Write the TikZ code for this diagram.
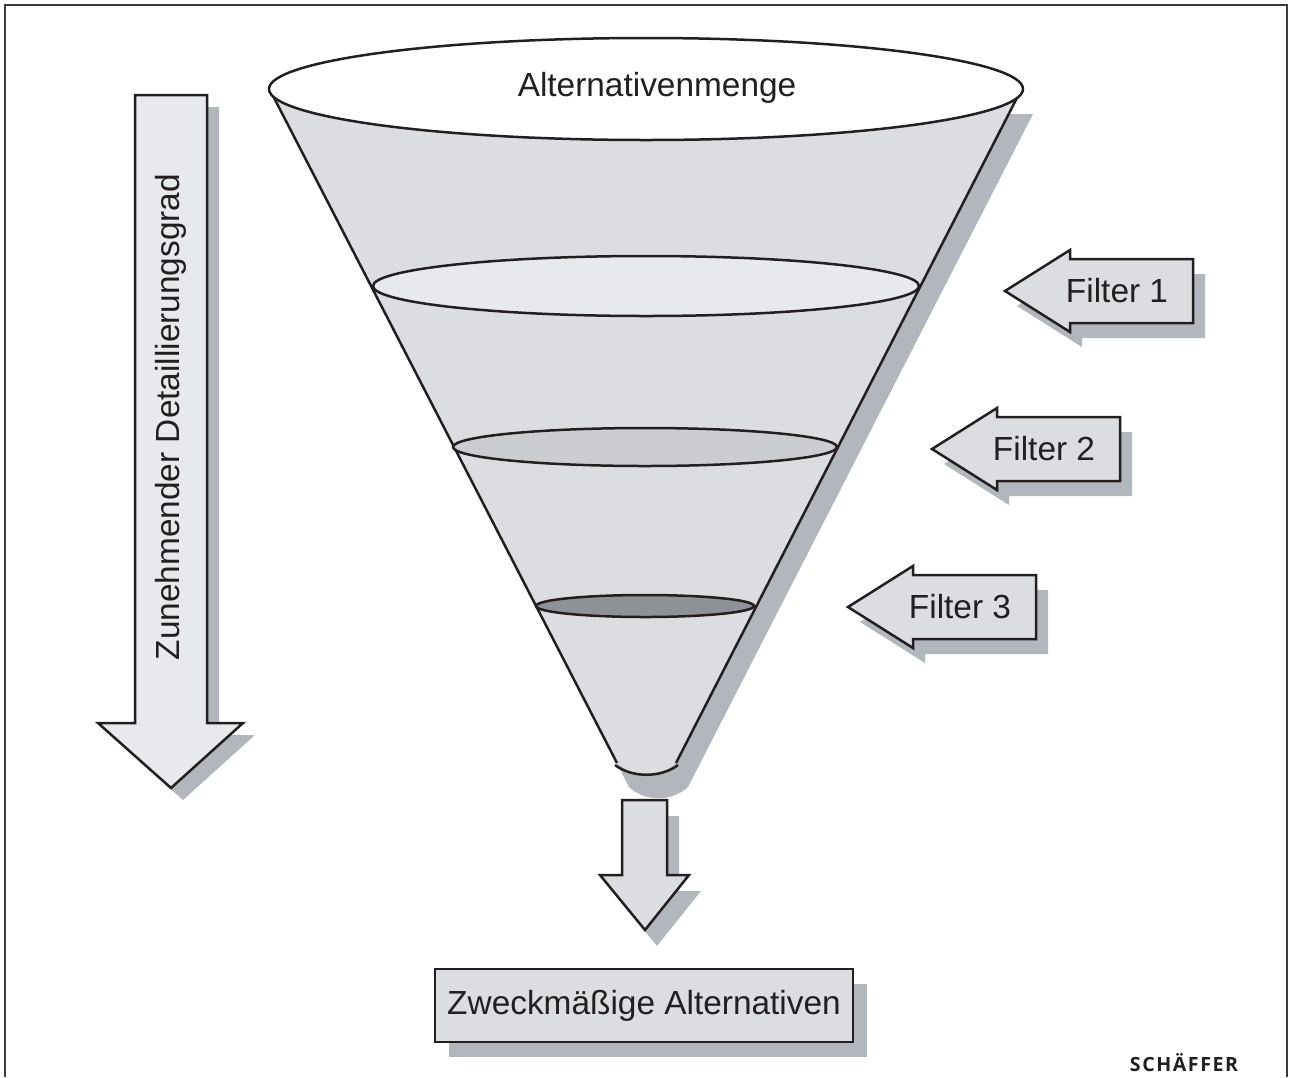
\documentclass[tikz,border=0pt]{standalone}
\usepackage{fontspec}
\setmainfont{Liberation Sans}
\newfontfamily\brandfont[LetterSpace=8]{Open Sans}
\usetikzlibrary{shapes.geometric}
\definecolor{ink}{HTML}{231F20}
\definecolor{framegray}{HTML}{3A3A3A}
\definecolor{cone}{HTML}{DBDDE1}
\definecolor{paper}{HTML}{E8E9EC}
\definecolor{midgray}{HTML}{CBCDD3}
\definecolor{darkgray}{HTML}{8E9197}
\definecolor{shadowgray}{HTML}{B2B6BD}
\tikzset{
  outline/.style={draw=ink,line width=1.25pt,line join=miter},
  castshadow/.style={fill=shadowgray,draw=none},
  lbl/.style={text=ink,inner sep=0pt,font=\fontsize{16.7}{20}\selectfont},
  level/.style={ellipse,outline,inner sep=0pt},
  % left-pointing filter arrow, origin at the tip
  pics/filterarrow/.style={code={
    \fill[castshadow,shift={(12,15)}] (0,0) -- (65,-41) -- (65,-32) -- (188,-32)
      -- (188,32) -- (65,32) -- (65,41) -- cycle;
    \draw[outline,fill=cone] (0,0) -- (65,-41) -- (65,-32) -- (188,-32)
      -- (188,32) -- (65,32) -- (65,41) -- cycle;
    \node[lbl] (-text) at (112,0) {#1};
  }}
}
\begin{document}
\begin{tikzpicture}[x=0.5pt,y=-0.5pt]
\useasboundingbox (0,0) rectangle (1289,1077);
% frame, open at the bottom
\draw[framegray,line width=1pt] (5,1077) -- (5,5) -- (1287,5) -- (1287,1077);

% funnel body
\fill[castshadow,shift={(12,24)}] (270,90) -- (1021,90) -- (676,763)
  .. controls (660,778) and (633,778) .. (617,763) -- cycle;
\fill[cone] (270,90) -- (1021,90) -- (676,763)
  .. controls (660,778) and (633,778) .. (617,763) -- cycle;
\draw[outline] (270,90) -- (617,763);
\draw[outline] (1021,90) -- (676,763);
\draw[outline] (615,765) .. controls (632,778) and (661,778) .. (678,765);

% openings
\node[level,fill=white,minimum width=377pt,minimum height=51pt] (rim) at (646,89) {};
\node[level,fill=paper,minimum width=273pt,minimum height=30pt] (level1) at (646,286) {};
\node[level,fill=midgray,minimum width=192pt,minimum height=19pt] (level2) at (645,447) {};
\node[level,fill=darkgray,minimum width=109pt,minimum height=11pt] (level3) at (645,606) {};
\node[lbl] (set) at (657,88) {Alternativenmenge};

% filters
\foreach \n/\x/\y in {1/1005/291,2/932/449,3/848/607}
  \pic (filter\n) at (\x,\y) {filterarrow={Filter \n}};

% detail arrow
\fill[castshadow,shift={(12,12)}] (135,95) -- (207,95) -- (207,723) -- (243,723)
  -- (171,788) -- (98,723) -- (135,723) -- cycle;
\draw[outline,fill=paper] (135,95) -- (207,95) -- (207,723) -- (243,723)
  -- (171,788) -- (98,723) -- (135,723) -- cycle;
\node[lbl,rotate=90] (detail) at (171,417) {Zunehmender\ Detaillierungsgrad};

% outlet arrow
\fill[castshadow,shift={(12,16)}] (622,800) -- (667,800) -- (667,875) -- (689,875)
  -- (645,930) -- (600,875) -- (622,875) -- cycle;
\draw[outline,fill=cone] (622,800) -- (667,800) -- (667,875) -- (689,875)
  -- (645,930) -- (600,875) -- (622,875) -- cycle;

% result
\fill[castshadow] (449,984) rectangle (867,1057);
\node[lbl,outline,fill=cone,minimum width=209pt,minimum height=36.5pt] (result)
  at (644,1005.5) {Zweckmäßige Alternativen};

\node[text=ink,inner sep=0pt,font=\brandfont\bfseries\fontsize{9.8}{11}\selectfont]
  (brand) at (1184,1063) {SCHÄFFER};
\end{tikzpicture}
\end{document}
